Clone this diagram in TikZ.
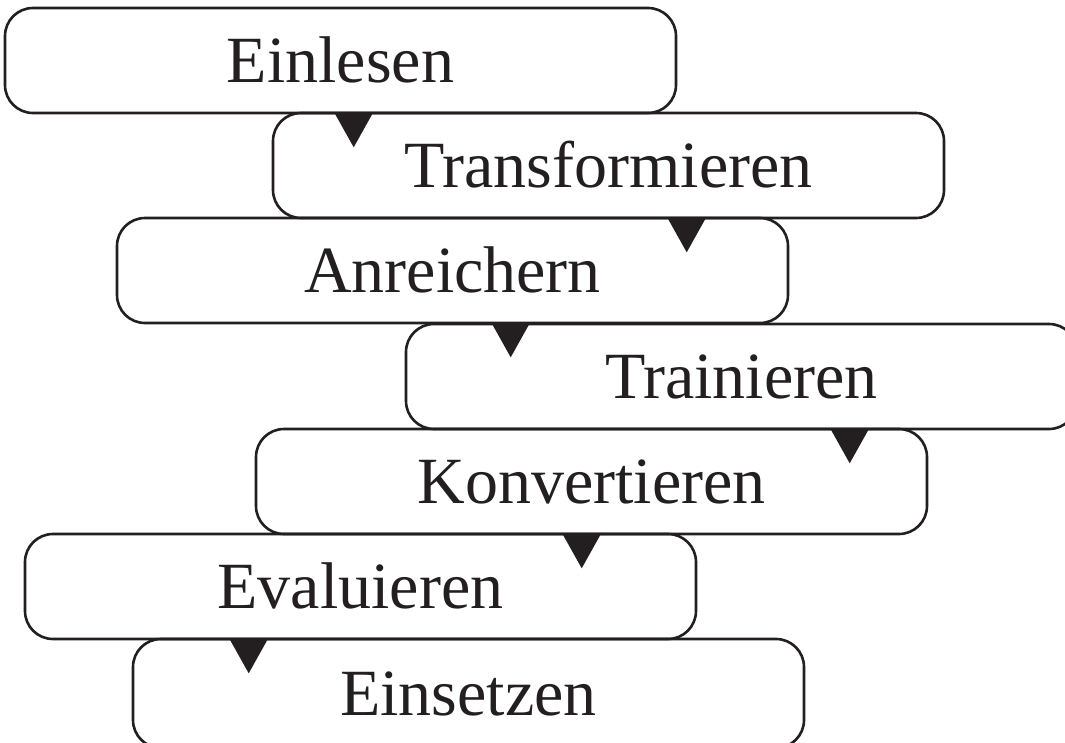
\documentclass[tikz,border=0pt]{standalone}
\usepackage{fontspec}
\setmainfont{Liberation Serif}
\usetikzlibrary{calc}
\definecolor{ink}{HTML}{231F20}
\tikzset{
  stagebox/.style={draw=ink, line width=2.6pt, rounded corners=28pt, rectangle,
    minimum width=671pt, minimum height=105pt, inner sep=0pt,
    text=ink, font=\fontsize{66pt}{70pt}\selectfont, text height=44pt, text depth=0pt},
  tip/.style={fill=ink, draw=none}
}
\begin{document}
\begin{tikzpicture}[x=1pt, y=-1pt]
\useasboundingbox (0,0) rectangle (1065,742);
\clip (0,0) rectangle (1065,742);
\node[stagebox] (b1) at (340.5,60.5) {Einlesen};
\node[stagebox] (b2) at (608.5,165.5) {Transformieren};
\node[stagebox] (b3) at (452.5,270.5) {Anreichern};
\node[stagebox] (b4) at (741.5,376.5) {Trainieren};
\node[stagebox] (b5) at (591.5,481.5) {Konvertieren};
\node[stagebox] (b6) at (360.5,586.5) {Evaluieren};
\node[stagebox, minimum height=109pt] (b7) at (468.5,693.5) {Einsetzen};
\coordinate (t1) at ($(b1.south west)+(350,0)$);
\coordinate (t2) at ($(b2.south west)+(415,0)$);
\coordinate (t3) at ($(b3.south west)+(395,0)$);
\coordinate (t4) at ($(b4.south west)+(445,0)$);
\coordinate (t5) at ($(b5.south west)+(327,0)$);
\coordinate (t6) at ($(b6.south west)+(225,0)$);
\foreach \t in {t1,t2,t3,t4,t5,t6}{
  \fill[tip] ($(\t)+(-19,-1)$) -- ($(\t)+(19,-1)$) -- ($(\t)+(0,33)$) -- cycle;
}
\end{tikzpicture}
\end{document}
